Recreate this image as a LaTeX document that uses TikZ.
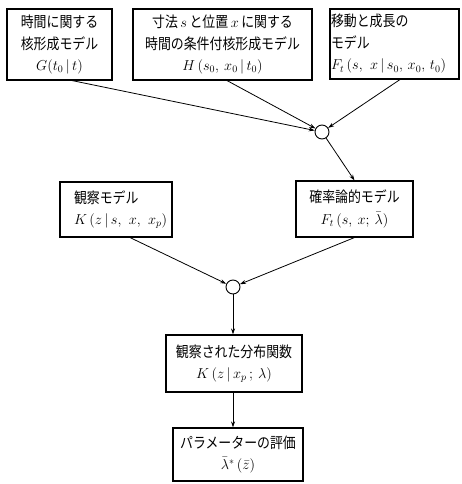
\documentclass[tikz,border=0pt]{standalone}
\usepackage{fontspec}
\newfontfamily\jp{Noto Sans CJK JP}[FakeStretch=0.86]
\usetikzlibrary{arrows.meta,calc}
\newcommand{\mth}[1]{{\fontsize{14.4}{21.5}\selectfont$#1$}}
\begin{document}
\begin{tikzpicture}[x=1pt,y=-1pt,
  box/.style={draw,line width=1.1pt,inner sep=2pt,align=center,
    font=\fontsize{15}{21.5}\selectfont\jp},
  junc/.style={draw,circle,line width=0.9pt,minimum size=14pt,inner sep=0pt},
  conn/.style={line width=0.8pt,-{Stealth[length=6pt,width=4pt]}}]
\useasboundingbox (0,0) rectangle (461,484);
\node[box,minimum width=105pt,minimum height=71pt] (b1) at (59.5,44.5)
  {時間に関する\\核形成モデル\\\mth{G(t_0\,|\,t)}};
\node[box,minimum width=179pt,minimum height=71pt] (b2) at (222.5,44.5)
  {寸法\,\mth{s}\,と位置\,\mth{x}\,に関する\\時間の条件付核形成モデル\\\mth{H\,(s_0,\ x_0\,|\,t_0)}};
\node[box,minimum width=129pt,minimum height=70pt,text width=127pt,inner sep=1pt,align=left] (b3) at (394.5,44)
  {移動と成長の\\モデル\\\mth{F_t\,(s,\ x\,|\,s_0,\,x_0,\,t_0)}};
\node[junc] (c1) at (322,132) {};
\node[box,minimum width=117pt,minimum height=56pt] (ft) at (354.5,209)
  {確率論的モデル\\\mth{F_t\,(s,\ x;\ \bar\lambda)}};
\node[box,minimum width=112pt,minimum height=55pt,text width=84pt,align=left] (k) at (116,209.5)
  {観察モデル\\\mth{K\,(z\,|\,s,\ x,\ x_p)}};
\node[junc] (c2) at (233,287) {};
\node[box,minimum width=136pt,minimum height=57pt] (obs) at (234,363.5)
  {観察された分布関数\\\mth{K\,(z\,|\,x_p\,;\ \lambda)}};
\node[box,minimum width=130pt,minimum height=53pt] (par) at (238,454.5)
  {パラメーターの評価\\\mth{\bar\lambda^*\,(\bar z)}};
\draw[conn] ([xshift=12.5pt]b1.south) -- (c1);
\draw[conn] ([xshift=4.5pt]b2.south) -- (c1);
\draw[conn] ([xshift=5.5pt]b3.south) -- (c1);
\draw[conn] (c1) -- (ft.north);
\draw[conn] ([xshift=14pt]k.south) -- (c2);
\draw[conn] (ft.south) -- (c2);
\draw[conn] (c2) -- (c2 |- obs.north);
\draw[conn] ([xshift=-1pt]obs.south) -- ([xshift=-1pt]obs.south |- par.north);
\end{tikzpicture}
\end{document}
